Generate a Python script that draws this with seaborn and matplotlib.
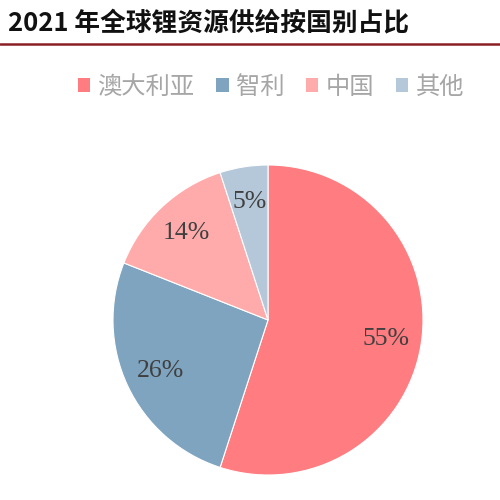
import matplotlib
matplotlib.use("Agg")
import matplotlib.pyplot as plt
from matplotlib.lines import Line2D
from matplotlib.patches import Patch
import seaborn as sns

categories = ["澳大利亚", "智利", "中国", "其他"]
shares = [55, 26, 14, 5]
colors = ["#FF7C80", "#7FA4BF", "#FFABAB", "#B4C8DA"]
title = "2021 年全球锂资源供给按国别占比"

sns.set_theme(style="white")
plt.rcParams['font.family'] = ['Noto Sans CJK SC', 'DejaVu Sans']

fig = plt.figure(figsize=(5, 5), dpi=100)
fig.patch.set_facecolor("white")

ax = fig.add_axes([0.226, 0.05, 0.62, 0.62])
wedges, texts, autotexts = ax.pie(
    shares, colors=colors, startangle=90, counterclock=False,
    autopct="%d%%", pctdistance=0.77,
    wedgeprops=dict(edgecolor="white", linewidth=0.8),
    textprops=dict(family=["Liberation Serif", "DejaVu Serif"], fontsize=18.5, color="#404040"),
)
ax.set_xlim(-1, 1)
ax.set_ylim(-1, 1)
ax.set_aspect("equal")

# title and rule
fig.text(0.015, 0.955, title, fontsize=18.5, fontweight="bold", color="#111111",
         ha="left", va="center")
fig.add_artist(Line2D([0, 1], [0.912, 0.912], transform=fig.transFigure,
                      color="#8B1E24", linewidth=1.8))

handles = [Patch(facecolor=c, edgecolor="none") for c in colors]
leg = fig.legend(handles, categories, loc="center", bbox_to_anchor=(0.542, 0.826),
                 ncol=4, frameon=False, fontsize=17.5, handlelength=0.5,
                 handleheight=0.5, handletextpad=0.3, columnspacing=0.9)
for t in leg.get_texts():
    t.set_color("#A6A6A6")

fig.savefig("out.png", dpi=100)
